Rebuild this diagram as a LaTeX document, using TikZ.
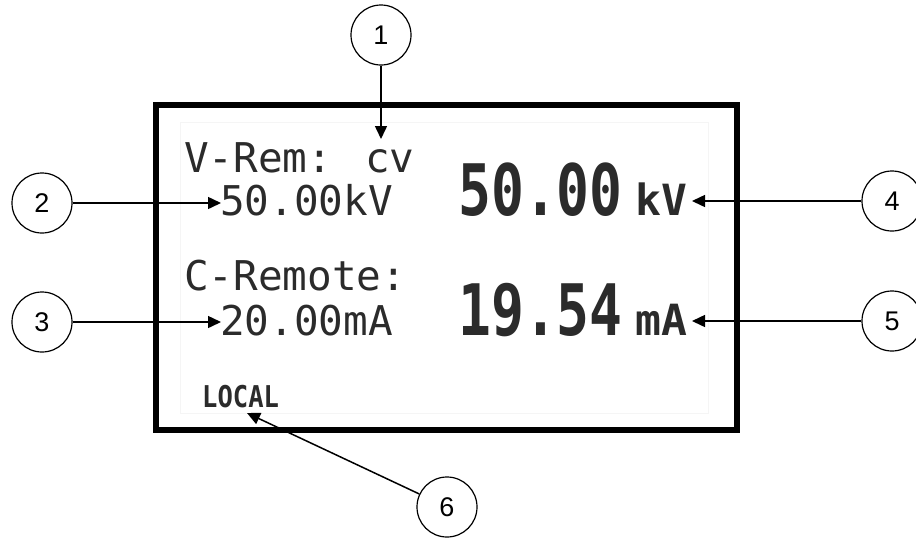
\documentclass[tikz,border=0pt]{standalone}
\usepackage{fontspec}
\setmainfont{Liberation Sans}
\newfontfamily\lcdfont{DejaVu Sans Mono}
\usetikzlibrary{arrows.meta}
\definecolor{lcdtext}{HTML}{2B2B2B}
\tikzset{
  callout/.style={circle, draw, line width=1.2pt, minimum size=60pt, inner sep=0pt, font=\fontsize{27}{30}\selectfont},
  pointer/.style={line width=1.5pt, -{Triangle[length=13pt,width=12pt]}},
  lcd/.style={anchor=base west, inner sep=0pt, text=lcdtext},
  small/.style={lcd, font=\lcdfont\fontsize{41}{41}\selectfont},
}
\begin{document}
\begin{tikzpicture}[x=1pt,y=-1pt]
\useasboundingbox (0,0) rectangle (916,539);
% display frame
\draw[gray!8, line width=0.8pt] (180,122) rectangle (708,413);
\draw[line width=6pt] (156,105) rectangle (737,430);
% LCD texts
\node[small] (vrem) at (184,172) {V-Rem: cv};
\node[small] (vset) at (220,215) {50.00kV};
\node[small] (crem) at (184,290) {C-Remote:};
\node[small] (cset) at (220,335) {20.00mA};
\node[lcd, font=\lcdfont\bfseries\fontsize{71}{71}\selectfont] (vbig) at (458,215) {\scalebox{0.77}[1]{50.00}};
\node[lcd, font=\lcdfont\bfseries\fontsize{43}{43}\selectfont] (vunit) at (635,215) {kV};
\node[lcd, font=\lcdfont\bfseries\fontsize{71}{71}\selectfont] (cbig) at (458,335) {\scalebox{0.77}[1]{19.54}};
\node[lcd, font=\lcdfont\bfseries\fontsize{43}{43}\selectfont] (cunit) at (635,335) {mA};
\node[lcd, font=\lcdfont\bfseries\fontsize{30}{30}\selectfont] (local) at (202,407) {\scalebox{0.85}[1]{LOCAL}};
% callouts
\node[callout] (c1) at (381,35) {1};
\node[callout] (c2) at (42,203) {2};
\node[callout] (c3) at (42,322) {3};
\node[callout] (c4) at (892,201) {4};
\node[callout] (c5) at (892,321) {5};
\node[callout] (c6) at (447,507) {6};
% arrow targets
\coordinate (t1) at (381,139);
\coordinate (t2) at (221,203);
\coordinate (t3) at (221,322);
\coordinate (t4) at (692,201);
\coordinate (t5) at (692,321);
\coordinate (t6) at (247,413);
\draw[pointer] (c1) -- (t1);
\draw[pointer] (c2) -- (t2);
\draw[pointer] (c3) -- (t3);
\draw[pointer] (c4) -- (t4);
\draw[pointer] (c5) -- (t5);
\draw[pointer] (c6) -- (t6);
\end{tikzpicture}
\end{document}
